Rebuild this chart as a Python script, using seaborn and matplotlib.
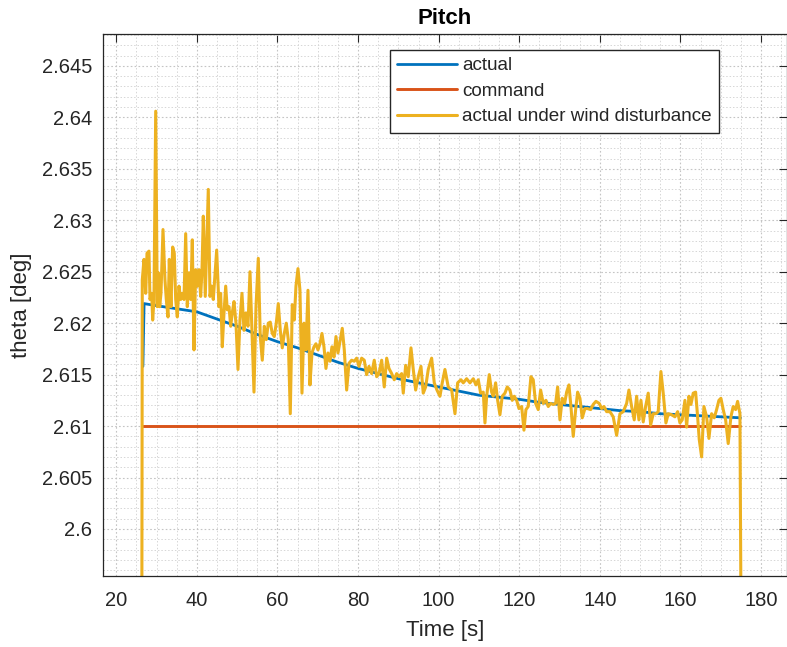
import numpy as np
import pandas as pd
import matplotlib
matplotlib.use("Agg")
import matplotlib.pyplot as plt
from matplotlib.ticker import MultipleLocator, FuncFormatter
import seaborn as sns

# ---------------- data ----------------
t_actual = [26.6, 26.9, 30, 35, 40, 45, 50, 55, 60, 65, 70, 75, 80, 85, 90, 95,
            100, 105, 110, 115, 120, 125, 130, 135, 140, 145, 150, 155, 160,
            165, 170, 174.9]
actual = [2.6158, 2.6219, 2.6217, 2.6214, 2.6211, 2.6204, 2.6197, 2.6189,
          2.6182, 2.6176, 2.6169, 2.6162, 2.6156, 2.6151, 2.6146, 2.6142,
          2.6138, 2.6134, 2.6130, 2.6128, 2.6126, 2.6123, 2.6121, 2.6119,
          2.6117, 2.6115, 2.6114, 2.6112, 2.6111, 2.6110, 2.6109, 2.6108]

t_command = [26.6, 174.8]
command = [2.61, 2.61]

t_wind = [26.30, 26.45, 26.87, 27.30, 27.62, 28.11, 28.36, 28.78, 29.03, 29.35,
          29.78, 30.17, 30.42, 30.77, 31.09, 31.59, 32.08, 32.41, 32.83, 33.15,
          33.57, 33.99, 34.39, 34.74, 35.14, 35.56, 35.98, 36.38, 36.80, 37.22,
          37.62, 38.04, 38.46, 38.86, 39.28, 39.70, 40.10, 40.52, 40.94, 41.27,
          41.59, 42.08, 42.83, 43.25, 43.67, 44.07, 44.91, 45.48, 45.90, 46.30,
          46.73, 47.15, 47.54, 47.97, 48.39, 48.78, 49.21, 49.70, 50.20, 50.69,
          51.19, 51.69, 52.18, 52.68, 53.18, 53.67, 54.17, 54.67, 55.24, 55.73,
          56.23, 56.73, 57.22, 57.72, 58.21, 58.71, 59.21, 59.70, 60.20, 60.70,
          61.19, 61.69, 62.18, 62.68, 63.18, 63.67, 64.17, 64.59, 65.09, 65.58,
          66.08, 66.58, 67.07, 67.57, 68.06, 68.56, 69.06, 69.55, 70.05, 70.55,
          71.04, 71.54, 72.03, 72.53, 73.03, 73.52, 74.02, 74.52, 75.01, 76.08,
          76.58, 77.17, 77.74, 78.41, 79.06, 79.65, 80.22, 80.89, 81.54, 82.13,
          82.71, 83.37, 84.02, 84.62, 85.19, 85.86, 86.50, 87.10, 87.67, 88.34,
          88.98, 89.58, 90.15, 90.82, 91.22, 91.81, 92.46, 93.13, 93.70, 94.29,
          94.94, 95.61, 96.18, 96.77, 97.42, 98.26, 98.91, 99.58, 100.32, 100.89,
          101.56, 102.38, 103.23, 104.05, 104.71, 105.53, 106.11, 106.95, 107.77, 108.59,
          109.26, 109.83, 110.42, 111.07, 111.49, 111.91, 112.56, 113.15, 113.55, 114.14,
          114.64, 115.21, 115.78, 116.45, 117.02, 117.69, 118.26, 118.76, 119.36, 119.93,
          120.60, 121.17, 121.66, 122.23, 122.90, 123.47, 124.07, 124.71, 125.31, 125.96,
          126.63, 127.20, 127.79, 128.44, 129.03, 129.53, 130.10, 130.67, 131.27, 131.76,
          132.33, 132.83, 133.40, 134.00, 134.49, 135.06, 135.63, 136.30, 136.97, 137.72,
          138.36, 139.03, 139.85, 140.45, 141.02, 141.69, 142.51, 143.32, 144.17, 144.99,
          145.81, 146.65, 147.22, 147.89, 148.54, 149.13, 149.70, 150.20, 150.77, 151.36,
          152.01, 152.61, 153.25, 153.92, 154.49, 155.16, 155.73, 156.40, 156.97, 157.82,
          158.64, 159.31, 159.88, 160.45, 161.12, 161.54, 162.11, 162.61, 163.18, 163.77,
          164.27, 164.67, 165.26, 165.83, 166.50, 167.07, 167.74, 168.39, 168.98, 169.55,
          170.05, 170.62, 171.22, 171.86, 172.53, 173.10, 173.70, 174.19, 174.77, 175.19]
wind = [2.5800, 2.6242, 2.6262, 2.6229, 2.6268, 2.6270, 2.6223, 2.6229, 2.6203, 2.6223,
        2.6406, 2.6216, 2.6249, 2.6216, 2.6229, 2.6291, 2.6242, 2.6223, 2.6206, 2.6262,
        2.6216, 2.6274, 2.6268, 2.6223, 2.6206, 2.6236, 2.6223, 2.6229, 2.6223, 2.6287,
        2.6216, 2.6249, 2.6223, 2.6281, 2.6174, 2.6252, 2.6236, 2.6252, 2.6226, 2.6252,
        2.6304, 2.6226, 2.6330, 2.6226, 2.6236, 2.6223, 2.6271, 2.6216, 2.6229, 2.6177,
        2.6210, 2.6236, 2.6213, 2.6216, 2.6197, 2.6210, 2.6221, 2.6200, 2.6155, 2.6203,
        2.6229, 2.6193, 2.6210, 2.6197, 2.6250, 2.6193, 2.6133, 2.6216, 2.6263, 2.6187,
        2.6164, 2.6197, 2.6184, 2.6200, 2.6201, 2.6190, 2.6187, 2.6200, 2.6219, 2.6193,
        2.6176, 2.6190, 2.6200, 2.6184, 2.6112, 2.6218, 2.6203, 2.6236, 2.6253, 2.6232,
        2.6132, 2.6200, 2.6174, 2.6232, 2.6140, 2.6171, 2.6177, 2.6180, 2.6174, 2.6180,
        2.6190, 2.6177, 2.6156, 2.6171, 2.6163, 2.6177, 2.6167, 2.6187, 2.6171, 2.6195,
        2.6174, 2.6135, 2.6161, 2.6164, 2.6163, 2.6166, 2.6158, 2.6166, 2.6164, 2.6150,
        2.6158, 2.6151, 2.6164, 2.6148, 2.6151, 2.6164, 2.6138, 2.6166, 2.6156, 2.6151,
        2.6145, 2.6151, 2.6148, 2.6151, 2.6132, 2.6159, 2.6148, 2.6176, 2.6155, 2.6135,
        2.6148, 2.6158, 2.6132, 2.6138, 2.6155, 2.6166, 2.6142, 2.6135, 2.6129, 2.6142,
        2.6155, 2.6138, 2.6135, 2.6112, 2.6142, 2.6145, 2.6142, 2.6146, 2.6142, 2.6146,
        2.6140, 2.6145, 2.6132, 2.6133, 2.6103, 2.6129, 2.6150, 2.6133, 2.6129, 2.6142,
        2.6125, 2.6111, 2.6129, 2.6132, 2.6138, 2.6135, 2.6125, 2.6129, 2.6125, 2.6117,
        2.6119, 2.6096, 2.6116, 2.6119, 2.6148, 2.6145, 2.6122, 2.6116, 2.6135, 2.6122,
        2.6125, 2.6119, 2.6122, 2.6121, 2.6122, 2.6138, 2.6106, 2.6127, 2.6122, 2.6133,
        2.6140, 2.6119, 2.6090, 2.6116, 2.6133, 2.6127, 2.6108, 2.6117, 2.6117, 2.6116,
        2.6121, 2.6124, 2.6122, 2.6117, 2.6119, 2.6114, 2.6114, 2.6109, 2.6091, 2.6112,
        2.6114, 2.6122, 2.6135, 2.6119, 2.6106, 2.6129, 2.6106, 2.6125, 2.6104, 2.6119,
        2.6132, 2.6101, 2.6112, 2.6112, 2.6114, 2.6153, 2.6132, 2.6103, 2.6112, 2.6111,
        2.6109, 2.6114, 2.6103, 2.6106, 2.6125, 2.6099, 2.6129, 2.6121, 2.6132, 2.6133,
        2.6109, 2.6087, 2.6070, 2.6119, 2.6109, 2.6088, 2.6112, 2.6108, 2.6116, 2.6125,
        2.6127, 2.6116, 2.6106, 2.6083, 2.6109, 2.6119, 2.6116, 2.6124, 2.6112, 2.5800]

series_labels = ["actual", "command", "actual under wind disturbance"]
x_ticks = [20, 40, 60, 80, 100, 120, 140, 160, 180]
y_ticks = [2.6, 2.605, 2.61, 2.615, 2.62, 2.625, 2.63, 2.635, 2.64, 2.645]

# ---------------- styling ----------------
sns.set_theme(style="white")
plt.rcParams["font.family"] = ["Liberation Sans", "DejaVu Sans"]

fig = plt.figure(figsize=(7.87, 6.47), dpi=100)
ax = fig.add_axes([103 / 787, 71 / 647, 684 / 787, 542 / 647])

colors = ["#0072BD", "#D95319", "#EDB120"]

sns.lineplot(x=t_actual, y=actual, ax=ax, color=colors[0], lw=2.0,
             label=series_labels[0], estimator=None, sort=False)
sns.lineplot(x=t_command, y=command, ax=ax, color=colors[1], lw=2.1,
             label=series_labels[1], estimator=None, sort=False)
sns.lineplot(x=t_wind, y=wind, ax=ax, color=colors[2], lw=2.2,
             label=series_labels[2], estimator=None, sort=False)

ax.set_xlim(16.7, 186.45)
ax.set_ylim(2.59543, 2.6481)
ax.set_xticks(x_ticks)
ax.set_yticks(y_ticks)
ax.xaxis.set_minor_locator(MultipleLocator(5))
ax.yaxis.set_minor_locator(MultipleLocator(0.001))
fmt = FuncFormatter(lambda v, p: "%g" % round(v, 4))
ax.xaxis.set_major_formatter(fmt)
ax.yaxis.set_major_formatter(fmt)

ax.set_axisbelow(True)
ax.grid(which="major", color="#c4c4c4", ls=(0, (1.5, 2.0)), lw=0.8)
ax.grid(which="minor", color="#d6d6d6", ls=(0, (1.5, 2.0)), lw=0.7)

ax.tick_params(which="major", direction="in", length=6, width=0.8,
               top=True, right=True, labelsize=14.5, color="#262626",
               labelcolor="#262626", pad=8)
ax.tick_params(axis="x", which="major", pad=11)
ax.tick_params(which="minor", length=0)
for s in ax.spines.values():
    s.set_color("#262626")
    s.set_linewidth(0.9)

ax.set_title("Pitch", fontsize=16, fontweight="bold", pad=7, color="black")
ax.set_xlabel("Time [s]", fontsize=16, color="#262626", labelpad=7)
ax.set_ylabel("theta [deg]", fontsize=16, color="#262626", labelpad=7)

leg = ax.legend(loc="upper left", bbox_to_anchor=(0.4196, 0.9705),
                borderaxespad=0, fontsize=13.6, frameon=True, fancybox=False,
                edgecolor="#262626", framealpha=1, handlelength=3.15,
                handletextpad=0.3, labelspacing=0.44, borderpad=0.38)
leg.get_frame().set_linewidth(1.0)

fig.savefig("out.png", dpi=100)
